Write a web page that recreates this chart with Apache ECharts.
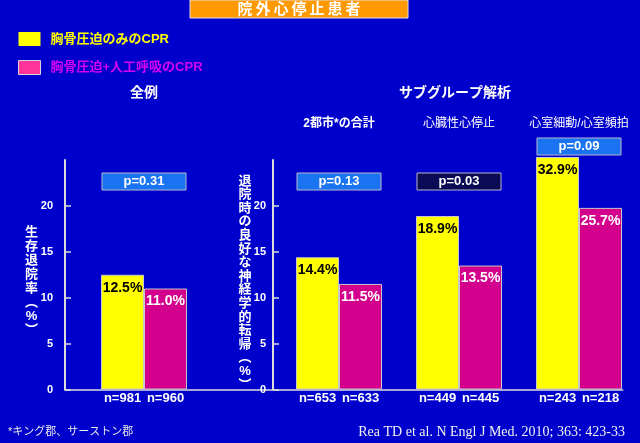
<!DOCTYPE html>
<html><head><meta charset="utf-8">
<script src="https://cdn.jsdelivr.net/npm/echarts@6/dist/echarts.min.js"></script>
<style>html,body{margin:0;padding:0;background:#0000cc}#c{width:640px;height:443px}</style>
</head><body><div id="c"></div>
<script>
// ---- data ----
const groups = ['全例', '2都市*の合計', '心臓性心停止', '心室細動/心室頻拍'];
const chestOnly = [12.5, 14.4, 18.9, 32.9];
const chestPlusVent = [11.0, 11.5, 13.5, 25.7];
const nChestOnly = [981, 653, 449, 243];
const nChestPlusVent = [960, 633, 445, 218];
const pValues = ['0.31', '0.13', '0.03', '0.09'];
const seriesNames = ['胸骨圧迫のみのCPR', '胸骨圧迫+人工呼吸のCPR'];
const yTickValues = [0, 5, 10, 15, 20];
const titleText = '院外心停止患者';
const subTitle = 'サブグループ解析';
const yNameLeft = '生存退院率︵%︶';
const yNameRight = '退院時の良好な神経学的転帰︵%︶';
const footNote = '*キング郡、サーストン郡';
const citation = 'Rea TD et al. N Engl J Med. 2010; 363: 423-33';

// ---- styling / layout ----
const SANS = '"Liberation Sans", Arial, "Noto Sans CJK JP", sans-serif';
const SERIF = '"Liberation Serif", "Times New Roman", serif';
const YELLOW = '#ffff00', MAGENTA = '#d2008c', AXIS = '#dcdcdc';
const gridGroups = [[0], [1, 2], [3]];

const chart = echarts.init(document.getElementById('c'), null, {renderer: 'canvas', width: 640, height: 443});

function catAxis(gi) {
  return {
    type: 'category', gridIndex: gi, data: gridGroups[gi].map(i => groups[i]),
    axisLine: {show: false}, axisTick: {show: false}, splitLine: {show: false},
    axisLabel: {
      margin: 1, interval: 0,
      formatter: v => { const i = groups.indexOf(v); return '{n|n=' + nChestOnly[i] + '}{n|n=' + nChestPlusVent[i] + '}'; },
      rich: {n: {width: 43, align: 'center', fontSize: 13, fontWeight: 'bold', color: '#fff', fontFamily: SANS, lineHeight: 16}}
    }
  };
}
function valAxis(gi, offset, margin) {
  return {
    type: 'value', gridIndex: gi, min: 0, max: 25, interval: 5, offset: offset,
    axisLine: {show: true, lineStyle: {color: AXIS, width: 2}},
    axisTick: {show: true, inside: true, length: 6, lineStyle: {color: AXIS, width: 1.5}},
    splitLine: {show: false},
    axisLabel: {margin: margin, color: '#fff', fontSize: 11, fontWeight: 'bold', fontFamily: SANS, showMaxLabel: false,
      formatter: v => yTickValues.includes(v) ? String(v) : ''}
  };
}
function bars(gi, values, nameIdx, color, labelColor) {
  return {
    type: 'bar', name: seriesNames[nameIdx], xAxisIndex: gi, yAxisIndex: gi,
    data: gridGroups[gi].map(i => values[i]),
    barWidth: 43, barGap: '0%',
    itemStyle: {color: color, borderColor: '#c8c8c8', borderWidth: 1},
    label: {show: true, position: 'insideTop', distance: 6, color: labelColor, fontSize: 14, fontWeight: 'bold', fontFamily: SANS,
      formatter: p => p.value.toFixed(1) + '%'}
  };
}

const option = {
  backgroundColor: '#0000cc',
  animation: false,
  legend: {
    orient: 'vertical', left: 13, top: 27, itemWidth: 22, itemHeight: 14, itemGap: 14, icon: 'rect', selectedMode: false,
    textStyle: {fontSize: 13, fontWeight: 'bold', fontFamily: SANS, lineHeight: 14, padding: [0, 0, 0, 5]},
    data: [
      {name: seriesNames[0], itemStyle: {color: YELLOW, borderWidth: 0}, textStyle: {color: YELLOW}},
      {name: seriesNames[1], itemStyle: {color: '#ff3399', borderColor: '#d8d8d8', borderWidth: 1}, textStyle: {color: '#d600f0'}}
    ]
  },
  grid: [
    {left: 65, top: 160, width: 158, height: 229.5, outerBoundsMode: 'none'},
    {left: 279, top: 160, width: 240, height: 229.5, outerBoundsMode: 'none'},
    {left: 519, top: 157, width: 120, height: 232.5, outerBoundsMode: 'none'},
    {left: 65, top: 160, width: 557.7, height: 229.5, outerBoundsMode: 'none'}
  ],
  xAxis: [catAxis(0), catAxis(1), catAxis(2),
    {type: 'category', gridIndex: 3, data: [''], axisLine: {show: true, lineStyle: {color: AXIS, width: 1.5}},
      axisTick: {show: false}, axisLabel: {show: false}, splitLine: {show: false}}],
  yAxis: [valAxis(0, 0, 12), valAxis(1, 6, 7),
    {type: 'value', gridIndex: 2, min: 0, max: 'dataMax', show: false, splitLine: {show: false}},
    {type: 'value', gridIndex: 3, show: false, splitLine: {show: false}}],
  series: [
    bars(0, chestOnly, 0, YELLOW, '#000'), bars(0, chestPlusVent, 1, MAGENTA, '#fff'),
    bars(1, chestOnly, 0, YELLOW, '#000'), bars(1, chestPlusVent, 1, MAGENTA, '#fff'),
    bars(2, chestOnly, 0, YELLOW, '#000'), bars(2, chestPlusVent, 1, MAGENTA, '#fff')
  ]
};
chart.setOption(option);

// ---- annotations positioned through the axes ----
const g = [];
g.push({type: 'rect', shape: {x: 190, y: 0, width: 218, height: 18}, style: {fill: '#ff9900', stroke: '#e0e0e0', lineWidth: 1}});
g.push({type: 'text', x: 299, y: 9.5, style: {text: titleText.split('').join('\u2009'), fill: '#fff', font: 'bold 15px ' + SANS, textAlign: 'center', textVerticalAlign: 'middle'}});
g.push({type: 'text', x: 455, y: 93, style: {text: subTitle, fill: '#fff', font: 'bold 14px ' + SANS, textAlign: 'center', textVerticalAlign: 'middle'}});
g.push({type: 'text', x: 31.5, y: 281, style: {text: yNameLeft.split('').join('\n'), fill: '#fff', font: 'bold 13px ' + SANS, lineHeight: 14, textAlign: 'center', textVerticalAlign: 'middle'}});
g.push({type: 'text', x: 245, y: 283, style: {text: yNameRight.split('').join('\n'), fill: '#fff', font: 'bold 13px ' + SANS, lineHeight: 13.6, textAlign: 'center', textVerticalAlign: 'middle'}});
g.push({type: 'text', x: 8, y: 432, style: {text: footNote, fill: '#e8e8e8', font: '11px ' + SANS, textAlign: 'left', textVerticalAlign: 'middle'}});
g.push({type: 'text', x: 625, y: 432, style: {text: citation, fill: '#f0f0f0', font: '14px ' + SERIF, textAlign: 'right', textVerticalAlign: 'middle'}});

groups.forEach((name, i) => {
  const gi = gridGroups.findIndex(a => a.includes(i));
  const idx = gridGroups[gi].indexOf(i);
  const cx = chart.convertToPixel({xAxisIndex: gi}, idx);
  const topY = chart.convertToPixel({yAxisIndex: gi}, Math.min(chestOnly[i], gi === 2 ? chestOnly[i] : 25));
  if (i === 0) {
    g.push({type: 'text', x: cx, y: 93, style: {text: name, fill: '#fff', font: 'bold 14px ' + SANS, textAlign: 'center', textVerticalAlign: 'middle'}});
  } else {
    g.push({type: 'text', x: cx, y: 124, style: {text: name, fill: '#fff', font: (i === 1 ? 'bold ' : '') + '12px ' + SANS, textAlign: 'center', textVerticalAlign: 'middle'}});
  }
  const boxTop = Math.min(173, topY - 19);
  const sig = parseFloat(pValues[i]) < 0.05;
  g.push({type: 'rect', shape: {x: cx - 42, y: boxTop, width: 84, height: 17},
    style: {fill: sig ? '#0a0a55' : '#1a73f0', stroke: '#b8b8c8', lineWidth: 1}});
  g.push({type: 'text', x: cx, y: boxTop + 8.5, style: {text: 'p=' + pValues[i], fill: '#fff', font: 'bold 13px ' + SANS, textAlign: 'center', textVerticalAlign: 'middle'}});
});
chart.setOption({graphic: g});
</script>
</body></html>
